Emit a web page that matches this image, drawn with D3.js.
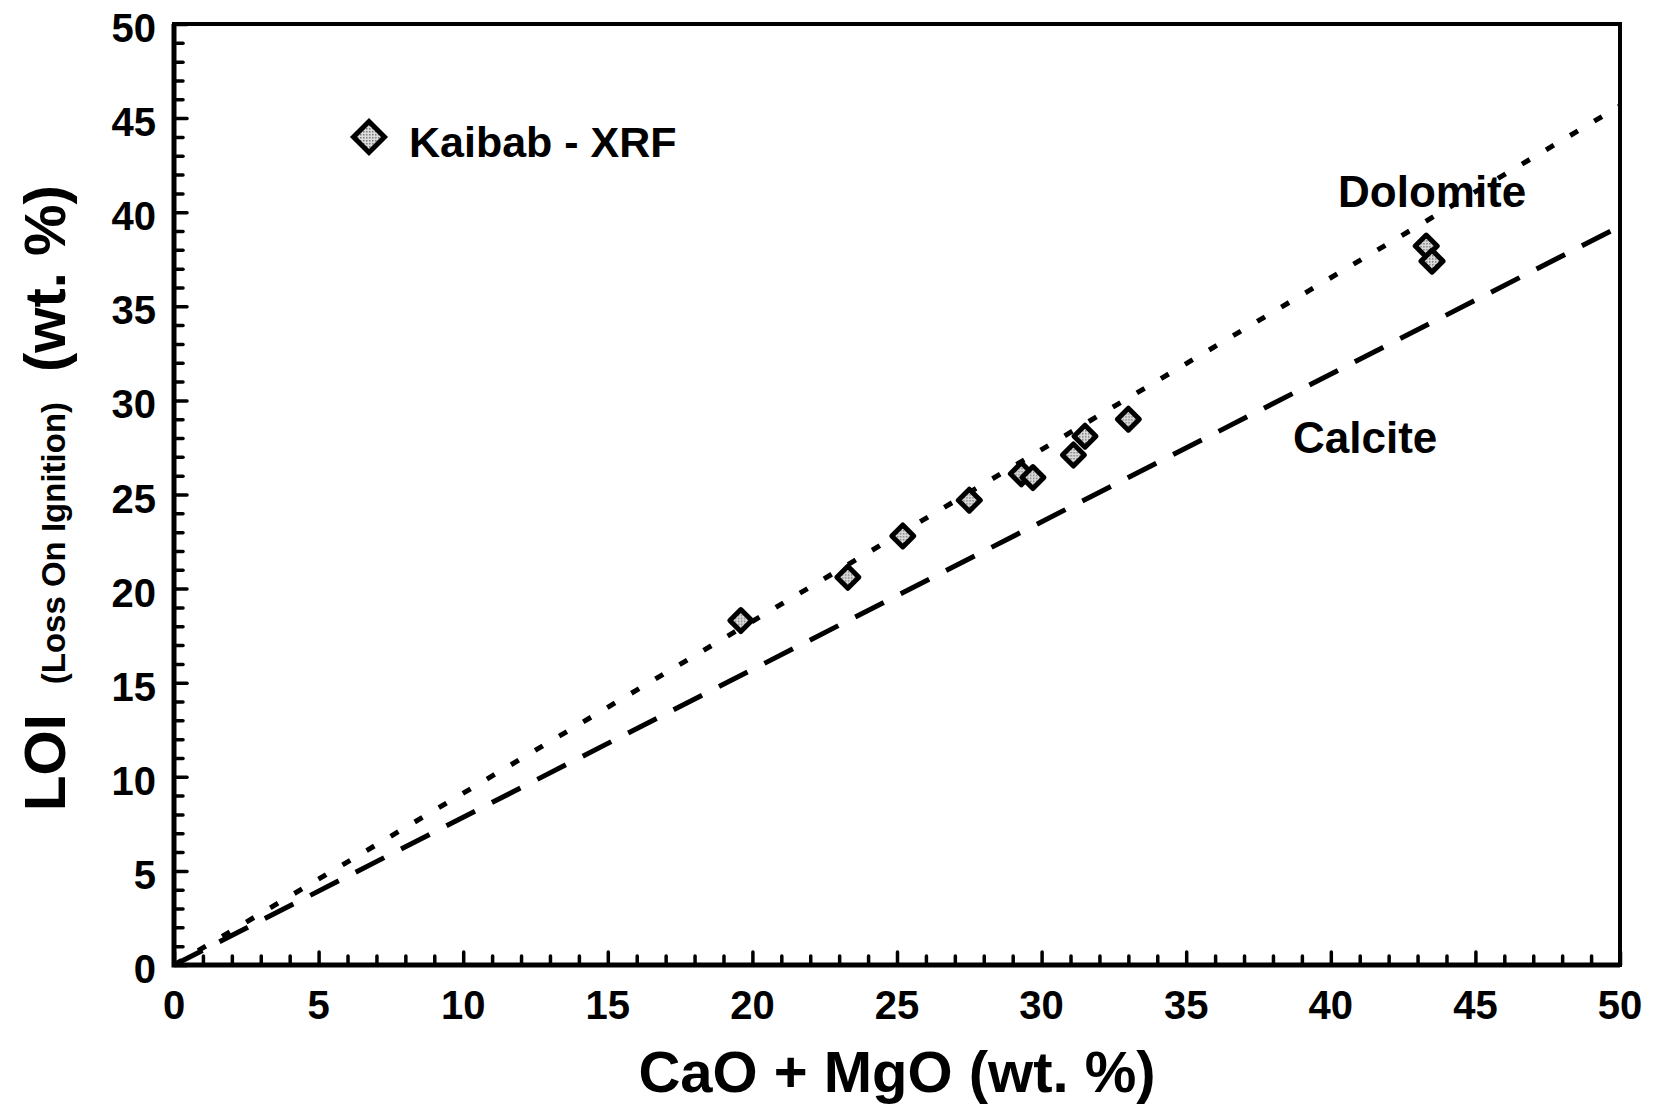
<!DOCTYPE html>
<html>
<head>
<meta charset="utf-8">
<script src="https://cdn.jsdelivr.net/npm/d3@7"></script>
<style>
  html, body { margin: 0; padding: 0; background: #fff; }
  svg { display: block; }
  text { font-family: "Liberation Sans", Arial, Helvetica, sans-serif; font-weight: bold; fill: #000; }
</style>
</head>
<body>
<svg id="chart" width="1655" height="1105"></svg>
<script>
// ---- data ----
const caoMgo = [19.6, 23.3, 25.2, 27.5, 29.3, 29.7, 31.1, 31.5, 33.0, 43.3, 43.5];
const loi    = [18.3, 20.6, 22.8, 24.7, 26.1, 25.9, 27.1, 28.1, 29.0, 38.2, 37.4];
const dolomiteLine = [[0, 0], [50, 45.65]];
const calciteLine  = [[0, 0], [50, 39.25]];
const majorTicks = [0, 5, 10, 15, 20, 25, 30, 35, 40, 45, 50];
const minorTicks = d3.range(0, 51, 1);
const seriesName = "Kaibab - XRF";

// ---- layout ----
const svg = d3.select("#chart");
const m = {left: 174, top: 24, right: 1620, bottom: 965};
const x = d3.scaleLinear().domain([0, 50]).range([m.left, m.right]);
const y = d3.scaleLinear().domain([0, 50]).range([m.bottom, m.top]);

// stipple pattern for markers
const defs = svg.append("defs");
const pat = defs.append("pattern").attr("id", "stip").attr("width", 3).attr("height", 3)
  .attr("patternUnits", "userSpaceOnUse");
pat.append("rect").attr("width", 3).attr("height", 3).attr("fill", "#dcdcdc");
pat.append("rect").attr("width", 1.5).attr("height", 1.5).attr("fill", "#7a7a7a");

// frame
svg.append("rect").attr("x", m.left).attr("y", m.top)
  .attr("width", m.right - m.left).attr("height", m.bottom - m.top)
  .attr("fill", "none").attr("stroke", "#000").attr("stroke-width", 4);
svg.append("path").attr("d", `M${m.left},${m.top}V${m.bottom}H${m.right}`)
  .attr("fill", "none").attr("stroke", "#000").attr("stroke-width", 5);

// ticks (inward) via axes
const xAxisMinor = d3.axisTop(x).tickValues(minorTicks.filter(v => v % 5 !== 0)).tickSize(9).tickFormat("");
const xAxisMajor = d3.axisTop(x).tickValues(majorTicks).tickSize(13).tickFormat("");
const yAxisMinor = d3.axisRight(y).tickValues(minorTicks.filter(v => v % 5 !== 0)).tickSize(9).tickFormat("");
const yAxisMajor = d3.axisRight(y).tickValues(majorTicks).tickSize(13).tickFormat("");
[xAxisMinor, xAxisMajor].forEach(a => {
  const g = svg.append("g").attr("transform", `translate(0,${m.bottom})`).call(a);
  g.select(".domain").remove();
  g.selectAll("line").attr("stroke", "#000").attr("stroke-width", 3.5).attr("stroke-linecap", "round");
});
[yAxisMinor, yAxisMajor].forEach(a => {
  const g = svg.append("g").attr("transform", `translate(${m.left},0)`).call(a);
  g.select(".domain").remove();
  g.selectAll("line").attr("stroke", "#000").attr("stroke-width", 3.5).attr("stroke-linecap", "round");
});

// tick labels
svg.append("g").selectAll("text").data(majorTicks).join("text")
  .attr("x", d => x(d)).attr("y", 1019).attr("text-anchor", "middle")
  .attr("font-size", 40).text(d => d);
svg.append("g").selectAll("text").data(majorTicks).join("text")
  .attr("x", 156).attr("y", d => y(d) + 18).attr("text-anchor", "end")
  .attr("font-size", 40).text(d => d);

// axis titles
svg.append("text").attr("x", (m.left + m.right) / 2).attr("y", 1092)
  .attr("text-anchor", "middle").attr("font-size", 58).text("CaO + MgO (wt. %)");

const yt = svg.append("text").attr("transform", "translate(65,498) rotate(-90)")
  .attr("text-anchor", "middle");
yt.append("tspan").attr("font-size", 58).text("LOI");
yt.append("tspan").attr("font-size", 33).attr("dx", 30).text("(Loss On Ignition)");
yt.append("tspan").attr("font-size", 58).attr("dx", 30).text("(wt. %)");

// reference lines
const line = d3.line().x(d => x(d[0])).y(d => y(d[1]));
svg.append("path").datum(calciteLine).attr("d", line)
  .attr("fill", "none").attr("stroke", "#000").attr("stroke-width", 5)
  .attr("stroke-dasharray", "32,19");
svg.append("path").datum(dolomiteLine).attr("d", line)
  .attr("fill", "none").attr("stroke", "#000").attr("stroke-width", 5)
  .attr("stroke-dasharray", "9,19");

// line labels
svg.append("text").attr("x", 1338).attr("y", 207).attr("font-size", 44).text("Dolomite");
svg.append("text").attr("x", 1293).attr("y", 453).attr("font-size", 44).text("Calcite");

// points
const diamond = r => `M0,${-r}L${r},0L0,${r}L${-r},0Z`;
svg.append("g").selectAll("path").data(caoMgo.map((v, i) => [v, loi[i]])).join("path")
  .attr("transform", d => `translate(${x(d[0])},${y(d[1])})`)
  .attr("d", diamond(11))
  .attr("fill", "url(#stip)").attr("stroke", "#000").attr("stroke-width", 5)
  .attr("stroke-linejoin", "round");

// legend
svg.append("path").attr("transform", "translate(369,137)").attr("d", diamond(15.5))
  .attr("fill", "url(#stip)").attr("stroke", "#000").attr("stroke-width", 5)
  .attr("stroke-linejoin", "miter");
svg.append("text").attr("x", 409).attr("y", 157).attr("font-size", 43).text(seriesName);
</script>
</body>
</html>
